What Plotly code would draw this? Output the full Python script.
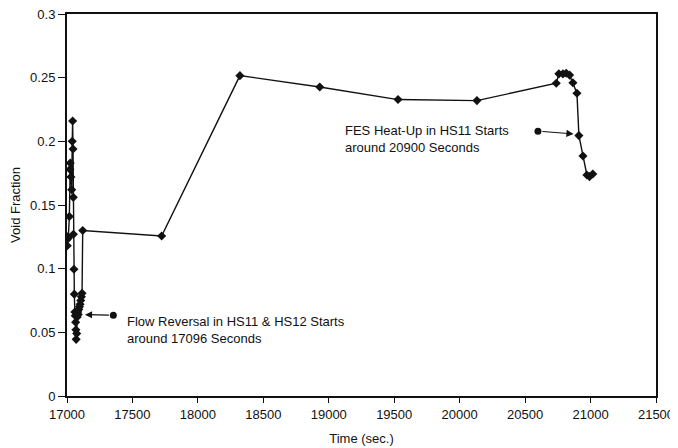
import plotly.graph_objects as go

# Data
time_s = [17000, 17002, 17005, 17010, 17018, 17022, 17025, 17030, 17036, 17040,
          17043, 17046, 17048, 17049, 17053, 17056, 17060, 17063, 17066, 17068,
          17070, 17074, 17078, 17082, 17086, 17090, 17095, 17100, 17105, 17110,
          17115, 17120, 17723, 18321, 18931, 19529, 20132, 20738, 20758, 20789,
          20814, 20840, 20865, 20896, 20911, 20942, 20972, 20992, 21017]
void_fraction = [0.123, 0.118, 0.125, 0.124, 0.141, 0.178, 0.183, 0.172, 0.162, 0.200,
                 0.216, 0.194, 0.156, 0.127, 0.0995, 0.080, 0.066, 0.063, 0.058, 0.052,
                 0.0445, 0.049, 0.062, 0.066, 0.064, 0.068, 0.070, 0.072, 0.075, 0.078,
                 0.0807, 0.130, 0.1257, 0.2516, 0.2427, 0.2328, 0.232, 0.2456, 0.253, 0.253,
                 0.2535, 0.252, 0.246, 0.2378, 0.2045, 0.1885, 0.1736, 0.1723, 0.1744]

x_ticks = [17000, 17500, 18000, 18500, 19000, 19500, 20000, 20500, 21000, 21500]
y_ticks = [0, 0.05, 0.1, 0.15, 0.2, 0.25, 0.3]
y_tick_labels = ["0", "0.05", "0.1", "0.15", "0.2", "0.25", "0.3"]

# Annotations: text, text anchor, arrow tail (dot) and arrow head
notes = ["Flow Reversal in HS11 & HS12 Starts<br>around 17096 Seconds",
         "FES Heat-Up in HS11 Starts<br>around 20900 Seconds"]
note_x = [17443, 19109]
note_y = [0.0515, 0.2015]
tail_x = [17354, 20598]
tail_y = [0.0634, 0.208]
head_x = [17137, 20870]
head_y = [0.0639, 0.2058]

FONT = "Liberation Sans, Arial, sans-serif"
INK = "#111111"

fig = go.Figure()
fig.add_trace(go.Scatter(
    x=time_s, y=void_fraction, mode="lines+markers",
    line=dict(color=INK, width=1.4),
    marker=dict(symbol="diamond", size=7, color=INK),
    showlegend=False, hoverinfo="skip"))
fig.add_trace(go.Scatter(
    x=tail_x, y=tail_y, mode="markers",
    marker=dict(symbol="circle", size=7, color=INK),
    showlegend=False, hoverinfo="skip"))

for i in range(len(notes)):
    fig.add_annotation(x=note_x[i], y=note_y[i], xref="x", yref="y",
                       text=notes[i], showarrow=False, xanchor="left",
                       yanchor="middle", align="left",
                       font=dict(family=FONT, size=13, color=INK))
    fig.add_annotation(x=head_x[i], y=head_y[i], ax=tail_x[i], ay=tail_y[i],
                       xref="x", yref="y", axref="x", ayref="y",
                       text="", showarrow=True, arrowhead=2, arrowsize=1.3,
                       arrowwidth=1.1, arrowcolor=INK, standoff=0, startstandoff=3)

axis_common = dict(showline=True, linecolor=INK, linewidth=2, mirror=True,
                   ticks="outside", tickcolor=INK, tickwidth=1,
                   showgrid=False, zeroline=False, automargin=False,
                   ticklabeloverflow="allow",
                   tickfont=dict(family=FONT, size=13, color=INK))

fig.update_xaxes(range=[17000, 21500], tickmode="array", tickvals=x_ticks,
                 ticktext=[str(v) for v in x_ticks], ticklen=5,
                 title=dict(text="Time (sec.)", font=dict(family=FONT, size=13, color=INK),
                            standoff=13),
                 **axis_common)
fig.update_yaxes(range=[0, 0.3], tickmode="array", tickvals=y_ticks,
                 ticktext=y_tick_labels, ticklen=7,
                 title=dict(text="Void Fraction", font=dict(family=FONT, size=13, color=INK),
                            standoff=9),
                 **axis_common)

# The page body adds an 8px margin, so the figure is sized to fit the window.
fig.update_layout(width=670, height=440,
                  margin=dict(l=59, r=22, t=6, b=52),
                  paper_bgcolor="white", plot_bgcolor="white",
                  font=dict(family=FONT, color=INK))

fig.write_html("out.html")
